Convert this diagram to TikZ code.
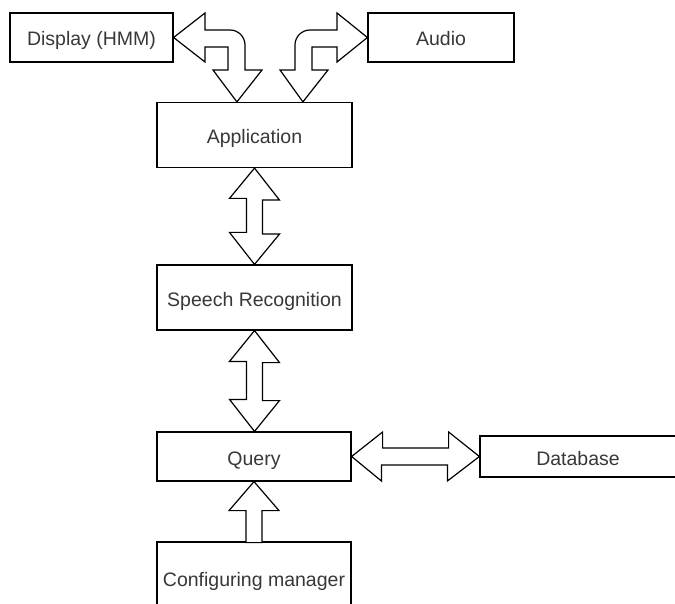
\documentclass[tikz,border=0pt]{standalone}
\usepackage{fontspec}
\setmainfont{Liberation Sans}
\usetikzlibrary{calc}
\begin{document}
\begin{tikzpicture}[x=1pt,y=1pt,
  box/.style={draw=black, line width=1.2pt, fill=white, inner sep=0pt,
    text=black!78, font=\fontsize{19.5}{22}\selectfont, anchor=center,
    text height=17.5pt, text depth=0.5pt},
  blockarrow/.style={draw=black, line width=1.2pt, fill=white, line join=miter}]
\useasboundingbox (0,0) rectangle (675,-604);
\clip (0,0) rectangle (675,-604);
\fill[white] (0,0) rectangle (675,-604);

\node[box, minimum width=163pt, minimum height=49pt] (display) at (91.5,-37.5) {Display (HMM)};
\node[box, minimum width=146pt, minimum height=49pt] (audio) at (441,-37.5) {Audio};
\node[box, minimum width=195pt, minimum height=65pt] (app) at (254.5,-135) {Application};
\node[box, minimum width=195pt, minimum height=65pt] (speech) at (254.5,-297.5) {Speech Recognition};
\node[box, minimum width=194pt, minimum height=49pt] (query) at (254,-456.5) {Query};
\node[box, minimum width=196pt, minimum height=41pt] (db) at (578,-456.5) {Database};
\node[box, minimum width=194pt, minimum height=72pt] (config) at (254,-578) {Configuring manager};

% Display <-> Application
\draw[blockarrow] (display.east) -- (205,-13) -- (205,-30) -- (230,-30)
  .. controls (238.3,-30) and (245,-36.7) .. (245,-45) -- (245,-70) -- (262,-70)
  -- ($(app.north west)+(80.5,0)$) -- (213,-70) -- (228,-70) -- (228,-47)
  -- (205,-47) -- (205,-62) -- cycle;

% Audio <-> Application
\draw[blockarrow] (audio.west) -- (337,-13) -- (337,-30) -- (310,-30)
  .. controls (301.7,-30) and (295,-36.7) .. (295,-45) -- (295,-70) -- (280,-70)
  -- ($(app.north west)+(146.5,0)$) -- (328,-70) -- (312,-70) -- (312,-47)
  -- (337,-47) -- (337,-62) -- cycle;

% Application <-> Speech Recognition
\draw[blockarrow] (app.south) -- ++(25,-32) -- ++(-17,0) -- ++(0,-34) -- ++(17,0)
  -- (speech.north) -- ++(-25,32) -- ++(17,0) -- ++(0,34) -- ++(-17,0) -- cycle;

% Speech Recognition <-> Query
\draw[blockarrow] (speech.south) -- ++(25,-32) -- ++(-17,0) -- ++(0,-38) -- ++(17,0)
  -- ($(query.north)+(0.5,0)$) -- ++(-25,32) -- ++(17,0) -- ++(0,38) -- ++(-17,0) -- cycle;

% Configuring manager -> Query
\draw[blockarrow] (query.south) -- ++(25,-29) -- ++(-17,0) -- ++(0,-32) -- ++(-16,0)
  -- ++(0,32) -- ++(-17,0) -- cycle;

% Query <-> Database
\draw[blockarrow] (query.east) -- ++(31,24.5) -- ++(0,-16) -- ++(66,0) -- ++(0,16)
  -- (db.west) -- ++(-32,-24.5) -- ++(0,16) -- ++(-66,0) -- ++(0,-16) -- cycle;
\end{tikzpicture}
\end{document}
